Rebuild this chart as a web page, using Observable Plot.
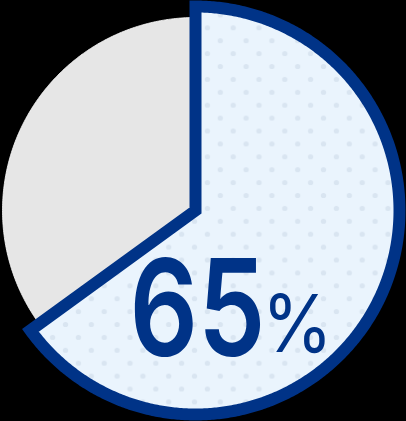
<!DOCTYPE html>
<html><head><meta charset="utf-8">
<script src="https://cdn.jsdelivr.net/npm/d3@7"></script>
<script src="https://cdn.jsdelivr.net/npm/@observablehq/plot@0.6"></script>
<style>html,body{margin:0;padding:0;background:#000;overflow:hidden}</style>
</head><body><div id="chart"></div>
<script>
const categories = ["Highlighted", "Rest"];
const values = [65, 35];
const labelNumber = "65";
const labelUnit = "%";

const BLUE = "#003387";
const pie = d3.pie().sort(null).value(d => d)(values);

function slicePoints(s, r, key) {
  const pts = [{x: 0, y: 0, key}];
  const n = Math.max(2, Math.ceil((s.endAngle - s.startAngle) / (Math.PI / 360)));
  for (let i = 0; i <= n; i++) {
    const a = s.startAngle + (s.endAngle - s.startAngle) * i / n;
    pts.push({x: r * Math.sin(a), y: r * Math.cos(a), key});
  }
  return pts;
}
const restR = 193 / 204;
const bluePts = slicePoints(pie[0], 1, categories[0]);
const restPts = slicePoints(pie[1], restR, categories[1]);

const plot = Plot.plot({
  width: 406, height: 421, margin: 0,
  x: {domain: [-1, 1], range: [195 - 204, 195 + 204], axis: null},
  y: {domain: [-1, 1], range: [210 + 204, 210 - 204], axis: null},
  style: {background: "transparent"},
  marks: [
    Plot.line(restPts, {x: "x", y: "y", curve: "linear-closed", fill: "#e6e6e6", stroke: "#ffffff", strokeWidth: 1, strokeOpacity: 0.8}),
    Plot.line(bluePts, {x: "x", y: "y", curve: "linear-closed", fill: "url(#dots)", stroke: BLUE, strokeWidth: 12, strokeLinejoin: "miter", strokeMiterlimit: 10}),
    Plot.text([labelNumber], {x: () => 0.343, y: () => -0.711, text: d => d, textAnchor: "end", lineAnchor: "bottom", fontFamily: "Inter", fontWeight: 600, fontSize: 134, fill: BLUE, className: "num"}),
    Plot.text([labelUnit], {x: () => 0.326, y: () => -0.696, text: d => d, textAnchor: "start", lineAnchor: "bottom", fontFamily: "Inter", fontWeight: 400, fontSize: 80, fill: BLUE, className: "unit"})
  ]
});

const defs = d3.select(plot).insert("defs", ":first-child");
const pat = defs.append("pattern").attr("id", "dots").attr("patternUnits", "userSpaceOnUse")
  .attr("width", 25.8).attr("height", 25.8).attr("x", 0.5 - 6.45).attr("y", 1.5 - 6.45);
pat.append("rect").attr("width", 25.8).attr("height", 25.8).attr("fill", "#eaf4fd");
pat.append("circle").attr("cx", 6.45).attr("cy", 6.45).attr("r", 2.6).attr("fill", "#d9e5f1");
pat.append("circle").attr("cx", 19.35).attr("cy", 19.35).attr("r", 2.6).attr("fill", "#d9e5f1");

d3.select(plot).selectAll(".num text").attr("transform", function() { return (this.getAttribute("transform") || "") + " scale(0.8,1)"; });
d3.select(plot).selectAll(".unit text").attr("transform", function() { return (this.getAttribute("transform") || "") + " scale(0.9,1)"; });

document.getElementById("chart").appendChild(plot);
</script></body></html>
